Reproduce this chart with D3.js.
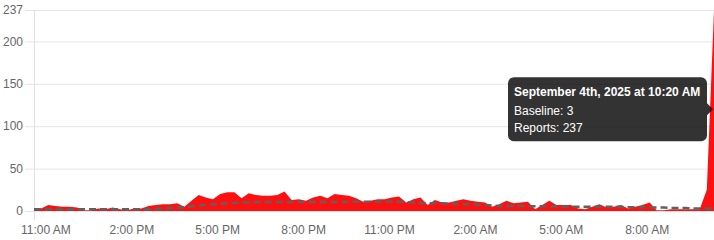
<!DOCTYPE html>
<html lang="en">
<head>
    <meta charset="UTF-8">
    <script src="https://cdn.jsdelivr.net/npm/d3@7"></script>
    <title>Reports vs baseline</title>
    <style>
        body { margin: 0; background: #fff; }
        text { font-family: "Helvetica Neue", Helvetica, Arial, "Liberation Sans", sans-serif; }
    </style>
</head>
<body>
    <svg></svg>
    <script>
        // 15 minute buckets, 10:35 AM Sep 3 -> 10:20 AM Sep 4
        const startTime = new Date(2025, 8, 3, 10, 35);
        const stepMinutes = 15;

        const reports = [2,3,7,6,5,5,4,1,1,3, 2,4,2,1,3,3,6,7,8,8, 9,5,12,19,16,14,20,22,22,15,
            21,19,18,18,19,23,13,14,12,16, 18,15,20,19,18,15,11,12,14,14, 16,17,10,14,16,7,13,10,10,12,
            14,12,11,10,5,8,12,9,10,11, 2,7,12,7,7,7,3,2,5,8, 4,5,7,3,5,7,10,1,1,2, 2,2,2,2,25,237];

        const baseline = [2,2,2,2,2,2,2,2,2,2, 2,2,2,2,2,2,2,2.5,3,3.5, 4,4.5,5.5,6.5,7.5,8,8.5,9,9.5,10,
            10,10.5,10.5,10.5,10.5,10.5,10.5,10.5,10.5,10.5, 10.5,10.5,10.5,10.5,10.5,11,11,11,11,11,
            11,11,10.5,10,9.5,9.5,9,9,8.5,8.5, 8,8,7.5,7,6.5,6,6,6,6,5.5, 5.5,5.5,5.5,5.5,5,5,5,5,5,5,
            5,5,5,4.5,4.5,4.5,4,4,4,3.5, 3.5,3.5,3,3,3,3];

        const yTicks = [0, 50, 100, 150, 200, 237];
        const firstTick = new Date(2025, 8, 3, 11, 0);

        const times = reports.map((d, i) => new Date(startTime.getTime() + i * stepMinutes * 60000));

        const width = 714, height = 240;
        const svg = d3.select('svg').attr('width', width).attr('height', height);

        const x = d3.scaleTime()
            .domain([times[0], times[times.length - 1]])
            .range([34, 714]);
        const y = d3.scaleLinear()
            .domain([0, 237])
            .range([211, 10]);

        // horizontal grid
        svg.append('g')
            .selectAll('line')
            .data(yTicks)
            .enter()
            .append('line')
            .attr('x1', 25).attr('x2', 714)
            .attr('y1', d => y(d) + 0.5).attr('y2', d => y(d) + 0.5)
            .attr('stroke', '#e5e5e5');

        svg.append('line')
            .attr('x1', 34.5).attr('x2', 34.5)
            .attr('y1', 10).attr('y2', 220)
            .attr('stroke', '#e0e0e0');

        svg.append('g')
            .selectAll('text')
            .data(yTicks)
            .enter()
            .append('text')
            .attr('x', 23)
            .attr('y', d => y(d))
            .attr('dy', '0.35em')
            .attr('text-anchor', 'end')
            .attr('font-size', 12)
            .attr('fill', '#666')
            .text(d => d);

        const xTicks = d3.timeHour.range(firstTick, times[times.length - 1], 3);
        const fmt = d3.timeFormat('%-I:%M %p');
        svg.append('g')
            .selectAll('text')
            .data(xTicks)
            .enter()
            .append('text')
            .attr('x', d => x(d))
            .attr('y', 234)
            .attr('text-anchor', 'middle')
            .attr('font-size', 12)
            .attr('fill', '#666')
            .text(d => fmt(d));

        // reports area
        const area = d3.area()
            .x((d, i) => x(times[i]))
            .y0(y(0))
            .y1(d => y(d))
            .curve(d3.curveLinear);

        svg.append('path')
            .datum(reports)
            .attr('d', area)
            .attr('fill', 'rgb(255,16,16)');

        // baseline dashed
        const line = d3.line()
            .x((d, i) => x(times[i]))
            .y(d => y(d))
            .curve(d3.curveMonotoneX);

        svg.append('path')
            .datum(baseline)
            .attr('d', line)
            .attr('fill', 'none')
            .attr('stroke', '#606060')
            .attr('stroke-width', 2.5)
            .attr('stroke-dasharray', '7,4');

        // tooltip for last point
        const last = reports.length - 1;
        const t = times[last];
        const day = t.getDate();
        const suffix = (day % 10 === 1 && day !== 11) ? 'st' : (day % 10 === 2 && day !== 12) ? 'nd' : (day % 10 === 3 && day !== 13) ? 'rd' : 'th';
        const title = d3.timeFormat('%B ')(t) + day + suffix + d3.timeFormat(', %Y at %-I:%M %p')(t);

        const tipY = (y(reports[last]) + y(baseline[last])) / 2;
        const tip = svg.append('g');
        tip.append('rect')
            .attr('x', 508).attr('y', tipY - 32)
            .attr('width', 199).attr('height', 64)
            .attr('rx', 6)
            .attr('fill', 'rgba(0,0,0,0.8)');
        tip.append('path')
            .attr('d', `M707,${tipY - 6}L713,${tipY}L707,${tipY + 6}Z`)
            .attr('fill', 'rgba(0,0,0,0.8)');
        tip.append('text')
            .attr('x', 514).attr('y', tipY - 13)
            .attr('font-size', 12).attr('font-weight', 'bold')
            .attr('fill', '#fff')
            .text(title);
        tip.append('text')
            .attr('x', 514).attr('y', tipY + 6)
            .attr('font-size', 12)
            .attr('fill', '#fff')
            .text('Baseline: ' + baseline[last]);
        tip.append('text')
            .attr('x', 514).attr('y', tipY + 23)
            .attr('font-size', 12)
            .attr('fill', '#fff')
            .text('Reports: ' + reports[last]);
    </script>
</body>
</html>
